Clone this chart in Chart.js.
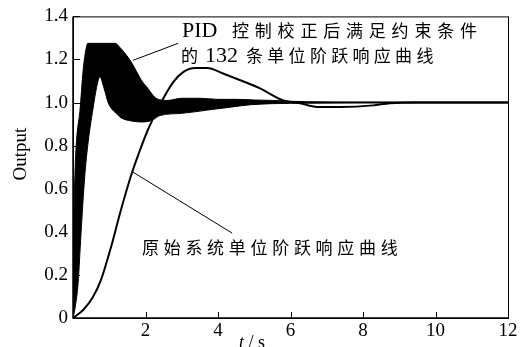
<!DOCTYPE html>
<html>
<head>
<meta charset="utf-8">
<script src="https://cdn.jsdelivr.net/npm/chart.js@4.4.1/dist/chart.umd.min.js"></script>
<style>
  html, body { margin: 0; padding: 0; background: #fff; }
  #wrap { width: 523px; height: 347px; }
</style>
</head>
<body>
<div id="wrap"><canvas id="stepChart" width="523" height="347"></canvas></div>
<script>
// original system unit step response
const origT = [0, 0.28, 0.55, 0.77, 1.05, 1.32, 1.6, 1.85, 2.07, 2.25, 2.46, 2.76, 3.03, 3.37, 3.7, 4.14, 4.6, 5.16, 5.8, 6.26, 6.73, 7.37, 8.28, 8.74, 9.5, 10.5, 12];
const origY = [0, 0.037, 0.097, 0.176, 0.33, 0.5, 0.66, 0.78, 0.875, 0.94, 1.01, 1.094, 1.14, 1.16, 1.16, 1.135, 1.105, 1.066, 1.01, 0.997, 0.98, 0.98, 0.987, 0.997, 1.0, 1.0, 1.0];

// envelope of the 132 PID-corrected responses (upper / lower)
const bandUpT = [0, 0.02, 0.06, 0.1, 0.19, 0.28, 0.34, 0.41, 0.8, 1.16, 1.3, 1.45, 1.6, 1.75, 1.9, 2.07, 2.2, 2.35, 2.6, 3.0, 3.5, 4.0, 4.5, 5.0, 5.5, 6.0, 6.5, 8.0, 10.0, 12.0];
const bandUpY = [0, 0.4, 0.7, 0.83, 0.96, 1.15, 1.23, 1.275, 1.275, 1.275, 1.255, 1.225, 1.19, 1.145, 1.1, 1.065, 1.035, 1.015, 1.01, 1.02, 1.02, 1.015, 1.015, 1.012, 1.01, 1.006, 1.004, 1.003, 1.003, 1.003];
const bandLoT = [0, 0.06, 0.14, 0.22, 0.32, 0.42, 0.55, 0.65, 0.74, 0.85, 0.97, 1.07, 1.16, 1.32, 1.6, 1.88, 2.07, 2.2, 2.4, 3.0, 3.7, 4.4, 4.9, 5.5, 6.5, 8.0, 10.0, 12.0];
const bandLoY = [0, 0.05, 0.16, 0.39, 0.65, 0.82, 0.97, 1.07, 1.12, 1.07, 1.0, 0.97, 0.955, 0.93, 0.915, 0.91, 0.912, 0.92, 0.94, 0.95, 0.965, 0.98, 0.99, 0.995, 0.997, 0.998, 0.998, 0.998];

// leader lines of the two notes
const pidLeadT = [1.655, 2.9];
const pidLeadY = [1.196, 1.275];
const origLeadT = [1.655, 4.39];
const origLeadY = [0.677, 0.394];

const xTickLabels = ['', '2', '4', '6', '8', '10', '12'];
const yTickLabels = ['0', '0.2', '0.4', '0.6', '0.8', '1.0', '1.2', '1.4'];
const pidNote1 = ['PID', '控制校正后满足约束条件'];
const pidNote2 = ['的', '132', '条单位阶跃响应曲线'];
const origNote = '原始系统单位阶跃响应曲线';

const pts = (t, y) => t.map((v, i) => ({ x: v, y: y[i] }));
const serif = '"Liberation Serif", "Times New Roman", serif';
const latinFont = '22px ' + serif;
const cjkFont = '17px "Noto Sans CJK SC", sans-serif';

// chinese text with extra spacing between the characters
function spacedText(ctx, str, x, y, gap) {
  ctx.font = cjkFont;
  for (const ch of str) {
    ctx.fillText(ch, x, y);
    x += ctx.measureText(ch).width + gap;
  }
}
function latinText(ctx, str, x, y) {
  ctx.font = latinFont;
  ctx.fillText(str, x, y);
}

const framePlugin = {
  id: 'frame',
  afterDatasetsDraw(chart) {
    const { ctx, chartArea: a, scales: { x, y } } = chart;
    ctx.save();
    ctx.strokeStyle = '#000';
    ctx.lineWidth = 1;
    ctx.strokeRect(a.left + 0.5, a.top + 0.5, a.right - a.left, a.bottom - a.top);
    ctx.lineWidth = 1.5;
    ctx.beginPath();
    ctx.moveTo(a.left, a.top);
    ctx.lineTo(a.left, a.bottom);
    ctx.lineTo(a.right, a.bottom);
    ctx.stroke();

    // inward ticks
    ctx.lineWidth = 1;
    x.ticks.forEach(t => {
      const px = Math.round(x.getPixelForValue(t.value)) + 0.5;
      ctx.beginPath();
      ctx.moveTo(px, a.bottom);
      ctx.lineTo(px, a.bottom - 6);
      ctx.stroke();
    });
    y.ticks.forEach(t => {
      const py = Math.round(y.getPixelForValue(t.value)) + 0.5;
      ctx.beginPath();
      ctx.moveTo(a.left, py);
      ctx.lineTo(a.left + 7, py);
      ctx.stroke();
    });

    // axis titles
    ctx.fillStyle = '#000';
    ctx.textBaseline = 'middle';
    ctx.textAlign = 'center';
    ctx.font = '19px ' + serif;
    ctx.save();
    ctx.translate(21, 154);
    ctx.rotate(-Math.PI / 2);
    ctx.fillText('Output', 0, 0);
    ctx.restore();

    ctx.textBaseline = 'alphabetic';
    ctx.textAlign = 'left';
    ctx.font = 'italic 18px ' + serif;
    const tw = ctx.measureText('t').width;
    ctx.font = '18px ' + serif;
    const rest = ' / s';
    const rw = ctx.measureText(rest).width;
    const x0 = 252 - (tw + rw) / 2;
    ctx.font = 'italic 18px ' + serif;
    ctx.fillText('t', x0, 348);
    ctx.font = '18px ' + serif;
    ctx.fillText(rest, x0 + tw, 348);

    // notes
    latinText(ctx, pidNote1[0], 182, 37);
    spacedText(ctx, pidNote1[1], 232, 37, 5.8);
    spacedText(ctx, pidNote2[0], 181, 62, 0);
    latinText(ctx, pidNote2[1], 205, 62);
    spacedText(ctx, pidNote2[2], 246, 62, 4.3);
    spacedText(ctx, origNote, 142, 254, 4.7);
    ctx.restore();
  }
};

const lineStyle = { pointRadius: 0, borderColor: '#000', cubicInterpolationMode: 'monotone' };

new Chart(document.getElementById('stepChart'), {
  type: 'line',
  data: {
    datasets: [
      { ...lineStyle, data: pts(bandUpT, bandUpY), borderWidth: 1, backgroundColor: '#000', fill: '+1' },
      { ...lineStyle, data: pts(bandLoT, bandLoY), borderWidth: 1, fill: false },
      { ...lineStyle, data: pts(origT, origY), borderWidth: 2, fill: false },
      { ...lineStyle, data: pts(pidLeadT, pidLeadY), borderWidth: 1, fill: false },
      { ...lineStyle, data: pts(origLeadT, origLeadY), borderWidth: 1, fill: false }
    ]
  },
  options: {
    responsive: false,
    animation: false,
    layout: { padding: { left: 0, right: 15, top: 16, bottom: 0 } },
    scales: {
      x: {
        type: 'linear',
        min: 0,
        max: 12,
        grid: { display: false, drawTicks: false },
        border: { display: false },
        ticks: {
          stepSize: 2,
          padding: 2,
          color: '#000',
          maxRotation: 0,
          font: { family: serif, size: 19 },
          callback: (v, i) => xTickLabels[i]
        },
        afterFit: s => { s.height = 29; }
      },
      y: {
        min: 0,
        max: 1.4,
        grid: { display: false, drawTicks: false },
        border: { display: false },
        ticks: {
          stepSize: 0.2,
          padding: 5,
          color: '#000',
          font: { family: serif, size: 19 },
          callback: (v, i) => yTickLabels[i]
        },
        afterFit: s => { s.width = 73; }
      }
    },
    plugins: {
      legend: { display: false },
      tooltip: { enabled: false }
    }
  },
  plugins: [framePlugin]
});
</script>
</body>
</html>
